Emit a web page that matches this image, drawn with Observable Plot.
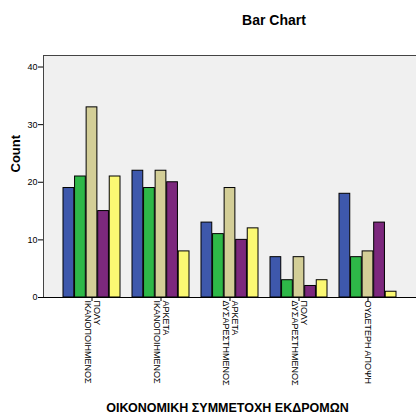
<!DOCTYPE html>
<html>
<head>
<meta charset="utf-8">
<script src="https://cdn.jsdelivr.net/npm/d3@7"></script>
<script src="https://cdn.jsdelivr.net/npm/@observablehq/plot@0.6"></script>
<style>
  html, body { margin: 0; padding: 0; background: #fff; }
  svg { display: block; }
</style>
</head>
<body>
<div id="chart"></div>
<script>
// Categories (x axis)
const groups = ["ΠΟΛΥ ΙΚΑΝΟΠΟΙΗΜΕΝΟΣ", "ΑΡΚΕΤΑ ΙΚΑΝΟΠΟΙΗΜΕΝΟΣ", "ΑΡΚΕΤΑ ΔΥΣΑΡΕΣΤΗΜΕΝΟΣ", "ΠΟΛΥ ΔΥΣΑΡΕΣΤΗΜΕΝΟΣ", "ΟΥΔΕΤΕΡΗ ΑΠΟΨΗ"];
const groupLabels = ["ΠΟΛΥ\nΙΚΑΝΟΠΟΙΗΜΕΝΟΣ", "ΑΡΚΕΤΑ\nΙΚΑΝΟΠΟΙΗΜΕΝΟΣ", "ΑΡΚΕΤΑ\nΔΥΣΑΡΕΣΤΗΜΕΝΟΣ", "ΠΟΛΥ\nΔΥΣΑΡΕΣΤΗΜΕΝΟΣ", "ΟΥΔΕΤΕΡΗ ΑΠΟΨΗ"];
// Series (legend not visible in the reference)
const seriesNames = ["Series 1", "Series 2", "Series 3", "Series 4", "Series 5"];
const series1 = [19, 22, 13, 7, 18];
const series2 = [21, 19, 11, 3, 7];
const series3 = [33, 22, 19, 7, 8];
const series4 = [15, 20, 10, 2, 13];
const series5 = [21, 8, 12, 3, 1];
const seriesValues = [series1, series2, series3, series4, series5];
const seriesColors = ["#3E58AC", "#2EB848", "#D3CE97", "#7C287D", "#FBF873"];
const yTicks = [0, 10, 20, 30, 40];

const W = 416, H = 414;
const mL = 43, mR = -1, mT = 55, mB = 117;
const padIn = 0.17, padOut = 0.27;
const step = (W - mL - mR) / (groups.length - padIn + 2 * padOut);
const bw = step * (1 - padIn);
const barW = bw / seriesNames.length;

const font = "'Liberation Sans', Arial, sans-serif";

const barMarks = seriesValues.map((vals, i) =>
  Plot.barY(groups.map((g, j) => ({group: g, value: vals[j]})), {
    x: "group",
    y: "value",
    fill: seriesColors[i],
    stroke: "#000",
    strokeWidth: 1,
    insetLeft: i * barW,
    insetRight: (seriesNames.length - 1 - i) * barW
  })
);

const chart = Plot.plot({
  width: W,
  height: H,
  marginLeft: mL,
  marginRight: mR,
  marginTop: mT,
  marginBottom: mB,
  style: {fontFamily: font, fontSize: "9px", background: "#fff", color: "#000"},
  x: {
    domain: groups,
    paddingInner: padIn,
    paddingOuter: padOut,
    align: 0.5,
    tickSize: 4,
    tickFormat: () => "",
    label: null
  },
  y: {
    domain: [0, 42],
    ticks: yTicks,
    tickSize: 5,
    tickPadding: 1,
    label: null
  },
  marks: [
    Plot.frame({fill: "#F0F0F0", stroke: "#444"}),
    ...barMarks,
    Plot.ruleY([0], {stroke: "#000"}),
    Plot.text(groups, {
      x: d => d,
      frameAnchor: "bottom",
      text: (d, i) => groupLabels[i],
      rotate: 90,
      textAnchor: "start",
      lineAnchor: "middle",
      lineHeight: 1.0,
      dy: 3,
      fontSize: 9,
      fill: "#000"
    }),
    Plot.text(["Bar Chart"], {
      frameAnchor: "top",
      text: d => d,
      dx: 43.5,
      dy: -40,
      fontSize: 14,
      fontWeight: "bold",
      fill: "#000"
    }),
    Plot.text(["ΟΙΚΟΝΟΜΙΚΗ ΣΥΜΜΕΤΟΧΗ ΕΚΔΡΟΜΩΝ"], {
      frameAnchor: "bottom",
      text: d => d,
      dx: -3,
      dy: 114,
      fontSize: 12.5,
      fontWeight: "bold",
      fill: "#000"
    }),
    Plot.text(["Count"], {
      frameAnchor: "left",
      text: d => d,
      dx: -28,
      dy: -4,
      rotate: -90,
      fontSize: 13,
      fontWeight: "bold",
      fill: "#000"
    })
  ]
});

document.getElementById("chart").appendChild(chart);
</script>
</body>
</html>
